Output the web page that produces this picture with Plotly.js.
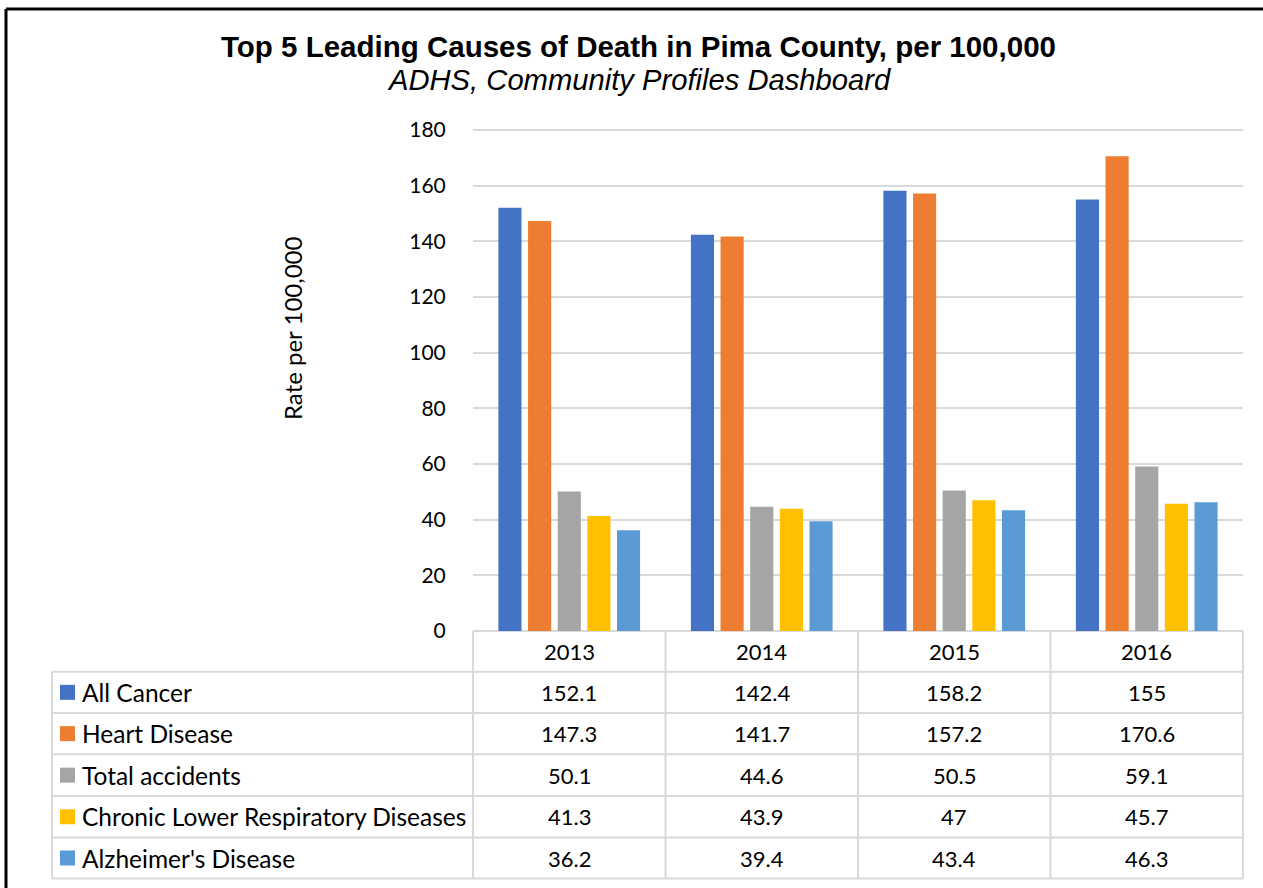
<!DOCTYPE html>
<html>
<head>
<meta charset="utf-8">
<script src="https://cdn.plot.ly/plotly-3.0.1.min.js"></script>
<style>html,body{margin:0;padding:0;background:#fff;}#chart{width:1263px;height:888px;}</style>
</head>
<body>
<div id="chart"></div>
<script>
// ---- data ----
const years = ['2013', '2014', '2015', '2016'];
const seriesNames = ['All Cancer', 'Heart Disease', 'Total accidents', 'Chronic Lower Respiratory Diseases', "Alzheimer's Disease"];
const allCancer = [152.1, 142.4, 158.2, 155];
const heartDisease = [147.3, 141.7, 157.2, 170.6];
const totalAccidents = [50.1, 44.6, 50.5, 59.1];
const chronicLowerResp = [41.3, 43.9, 47, 45.7];
const alzheimers = [36.2, 39.4, 43.4, 46.3];
const yTicks = [0, 20, 40, 60, 80, 100, 120, 140, 160, 180];
const seriesColors = ['#4472C4', '#ED7D31', '#A5A5A5', '#FFC000', '#5B9BD5'];
const titleText = 'Top 5 Leading Causes of Death in Pima County, per 100,000';
const subtitleText = 'ADHS, Community Profiles Dashboard';
const yTitleText = 'Rate per 100,000';

const seriesValues = [allCancer, heartDisease, totalAccidents, chronicLowerResp, alzheimers];

// ---- geometry (pixels -> paper) ----
const W = 1263, H = 888;
const px = x => x / W;
const py = y => 1 - y / H;
const yMax = 182;
const pxPerUnit = (631 - 130) / 180;
const plotL = 473, plotR = 1243, plotB = 631, plotT = plotB - yMax * pxPerUnit;
const tableL = 52;
const rowLines = [671.7, 713, 754.3, 796, 837.5, 878.5];
const FONT = 'Lato, "Noto Sans", sans-serif';
const GRID = '#d9d9d9';

const traces = seriesNames.map((name, i) => ({
  type: 'bar',
  name: name,
  x: years,
  y: seriesValues[i],
  marker: {color: seriesColors[i]},
  hoverinfo: 'x+y+name'
}));

const shapes = [];
const annotations = [];

// outer frame (top and left)
shapes.push({type: 'line', xref: 'paper', yref: 'paper', x0: px(6), x1: 1, y0: py(9), y1: py(9), line: {color: '#000', width: 3}});
shapes.push({type: 'line', xref: 'paper', yref: 'paper', x0: px(6), x1: px(6), y0: py(9), y1: 0, line: {color: '#000', width: 3}});

// table lines
const colW = (plotR - plotL) / years.length;
for (let c = 0; c <= years.length; c++) {
  const x = plotL + c * colW;
  shapes.push({type: 'line', xref: 'paper', yref: 'paper', x0: px(x), x1: px(x), y0: py(plotB), y1: py(rowLines[rowLines.length - 1]), line: {color: GRID, width: 2}});
}
shapes.push({type: 'line', xref: 'paper', yref: 'paper', x0: px(tableL), x1: px(tableL), y0: py(rowLines[0]), y1: py(rowLines[rowLines.length - 1]), line: {color: GRID, width: 2}});
rowLines.forEach(y => {
  shapes.push({type: 'line', xref: 'paper', yref: 'paper', x0: px(tableL), x1: px(plotR), y0: py(y), y1: py(y), line: {color: GRID, width: 2}});
});

// header (years)
years.forEach((yr, j) => {
  annotations.push({xref: 'x', yref: 'paper', x: j, y: py((plotB + rowLines[0]) / 2), text: yr, showarrow: false,
    xanchor: 'center', yanchor: 'middle', font: {family: FONT, size: 22, color: '#000'}});
});

// rows
seriesNames.forEach((name, i) => {
  const yc = (rowLines[i] + rowLines[i + 1]) / 2;
  shapes.push({type: 'rect', xref: 'paper', yref: 'paper', x0: px(60), x1: px(75), y0: py(yc - 7.5), y1: py(yc + 7.5),
    fillcolor: seriesColors[i], line: {width: 0}});
  annotations.push({xref: 'paper', yref: 'paper', x: px(80), y: py(yc), text: name, showarrow: false,
    xanchor: 'left', yanchor: 'middle', font: {family: FONT, size: 24.5, color: '#000'}});
  years.forEach((yr, j) => {
    annotations.push({xref: 'x', yref: 'paper', x: j, y: py(yc), text: String(seriesValues[i][j]), showarrow: false,
      xanchor: 'center', yanchor: 'middle', font: {family: FONT, size: 22, color: '#000'}});
  });
});

// titles
annotations.push({xref: 'paper', yref: 'paper', x: px(638.5), y: py(47), text: '<b>' + titleText + '</b>', showarrow: false,
  xanchor: 'center', yanchor: 'middle', font: {family: '"Liberation Sans", Arial, sans-serif', size: 29.5, color: '#000'}});
annotations.push({xref: 'paper', yref: 'paper', x: px(638.5), y: py(80), text: '<i>' + subtitleText + '</i>', showarrow: false,
  xanchor: 'center', yanchor: 'middle', font: {family: '"Liberation Sans", Arial, sans-serif', size: 29.2, color: '#000'}});
annotations.push({xref: 'paper', yref: 'paper', x: px(292), y: py(328), text: yTitleText, showarrow: false, textangle: -90,
  xanchor: 'center', yanchor: 'middle', font: {family: FONT, size: 24, color: '#000'}});

const layout = {
  width: W, height: H,
  margin: {l: 0, r: 0, t: 0, b: 0},
  paper_bgcolor: '#fff', plot_bgcolor: '#fff',
  showlegend: false,
  barmode: 'group',
  bargap: 0.23,
  bargroupgap: 0.22,
  xaxis: {domain: [px(plotL), px(plotR)], type: 'category', range: [-0.5, 3.5], autorange: false,
    showticklabels: false, ticks: '', showline: false, showgrid: false, zeroline: false, fixedrange: true},
  yaxis: {domain: [py(plotB), py(plotT)], range: [0, yMax], autorange: false, tickvals: yTicks,
    showgrid: true, gridcolor: GRID, gridwidth: 2,
    zeroline: true, zerolinecolor: GRID, zerolinewidth: 2, showline: false,
    ticks: 'outside', ticklen: 22, tickcolor: 'rgba(0,0,0,0)',
    tickfont: {family: FONT, size: 21, color: '#000'}, fixedrange: true},
  shapes: shapes,
  annotations: annotations
};

Plotly.newPlot('chart', traces, layout, {displayModeBar: false, staticPlot: true});
</script>
</body>
</html>
